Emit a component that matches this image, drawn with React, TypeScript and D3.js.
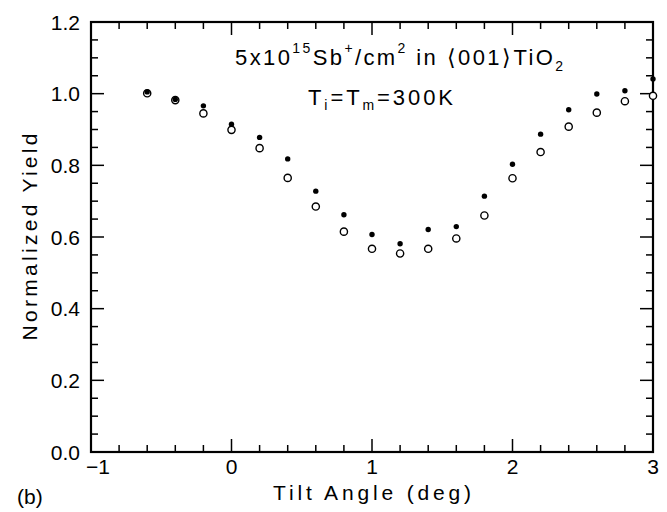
import React from "react";
import * as d3 from "d3";

const angles = [-0.6, -0.4, -0.2, 0, 0.2, 0.4, 0.6, 0.8, 1.0, 1.2, 1.4, 1.6, 1.8, 2.0, 2.2, 2.4, 2.6, 2.8, 3.0];
const yieldFilled = [1.005, 0.984, 0.966, 0.915, 0.878, 0.818, 0.728, 0.662, 0.607, 0.581, 0.621, 0.629, 0.714, 0.803, 0.887, 0.955, 0.999, 1.008, 1.041];
const yieldOpen = [1.001, 0.982, 0.945, 0.899, 0.848, 0.765, 0.685, 0.615, 0.567, 0.554, 0.567, 0.596, 0.660, 0.764, 0.837, 0.908, 0.947, 0.979, 0.994];
const xMajorTicks = [-1, 0, 1, 2, 3];
const yMajorTicks = [0, 0.2, 0.4, 0.6, 0.8, 1.0, 1.2];
const xLabel = "Tilt Angle (deg)";
const yLabel = "Normalized Yield";
const panelLabel = "(b)";

const W = 667;
const H = 512;
const M = { left: 91, right: 14, top: 22, bottom: 60 };
const FONT = "'Liberation Sans', Arial, Helvetica, sans-serif";

export default function App() {
  const x = d3.scaleLinear().domain([-1, 3]).range([M.left, W - M.right]);
  const y = d3.scaleLinear().domain([0, 1.2]).range([H - M.bottom, M.top]);
  const [x0, x1] = x.range();
  const [yb, yt] = y.range();

  const xMinor = d3.range(-1, 3.0001, 0.2).map((v) => +v.toFixed(2));
  const yMinor = d3.range(0, 1.2001, 0.05).map((v) => +v.toFixed(2));
  const isMajorX = (v: number) => Math.abs(v - Math.round(v)) < 1e-6;
  const isMajorY = (v: number) => Math.abs(v * 5 - Math.round(v * 5)) < 1e-6;
  const major = 13;
  const minor = 7;

  return (
    <svg width={W} height={H} style={{ position: "absolute", left: 0, top: 0, background: "#fff" }} fontFamily={FONT}>
      <rect x={0} y={0} width={W} height={H} fill="#fff" />
      {/* ticks */}
      <g stroke="#000" strokeWidth={1.5}>
        {xMinor.map((v, i) => {
          const len = isMajorX(v) ? major : minor;
          return (
            <g key={"xt" + i}>
              <line x1={x(v)} x2={x(v)} y1={yb} y2={yb - len} />
              <line x1={x(v)} x2={x(v)} y1={yt} y2={yt + len} />
            </g>
          );
        })}
        {yMinor.map((v, i) => {
          const len = isMajorY(v) ? major : minor;
          return (
            <g key={"yt" + i}>
              <line x1={x0} x2={x0 + len} y1={y(v)} y2={y(v)} />
              <line x1={x1} x2={x1 - len} y1={y(v)} y2={y(v)} />
            </g>
          );
        })}
      </g>
      <rect x={x0} y={yt} width={x1 - x0} height={yb - yt} fill="none" stroke="#000" strokeWidth={2.2} />
      {/* tick labels */}
      <g fontSize={21} fill="#000">
        {yMajorTicks.map((v) => (
          <text key={"yl" + v} x={x0 - 11} y={y(v)} dy="0.36em" textAnchor="end">
            {v.toFixed(1)}
          </text>
        ))}
        {xMajorTicks.map((v) => (
          <text key={"xl" + v} x={x(v) + (v < 0 ? 7 : 0)} y={yb + 22} textAnchor="middle">
            {v < 0 ? "\u2212" + Math.abs(v) : String(v)}
          </text>
        ))}
      </g>
      {/* axis labels */}
      <text x={(x0 + x1) / 2} y={500} fontSize={21} textAnchor="middle" textLength={198} lengthAdjust="spacing">
        {xLabel}
      </text>
      <text
        transform={`translate(37,${(yt + yb) / 2}) rotate(-90)`}
        fontSize={21}
        textAnchor="middle"
        textLength={207}
        lengthAdjust="spacing"
      >
        {yLabel}
      </text>
      <text x={17} y={504} fontSize={21}>
        {panelLabel}
      </text>
      {/* annotations */}
      <text x={235} y={65} fontSize={22} textLength={328} lengthAdjust="spacing">
        <tspan>5x10</tspan>
        <tspan fontSize={14} dy={-12}>15</tspan>
        <tspan dy={12}>Sb</tspan>
        <tspan fontSize={14} dy={-12}>+</tspan>
        <tspan dy={12}>/cm</tspan>
        <tspan fontSize={14} dy={-12}>2</tspan>
        <tspan dy={12}>{" in \u27E8001\u27E9TiO"}</tspan>
        <tspan fontSize={14} dy={6}>2</tspan>
      </text>
      <text x={308} y={105} fontSize={22} textLength={145} lengthAdjust="spacing">
        <tspan>T</tspan>
        <tspan fontSize={14} dy={5}>i</tspan>
        <tspan dy={-5}>=T</tspan>
        <tspan fontSize={14} dy={5}>m</tspan>
        <tspan dy={-5}>=300K</tspan>
      </text>
      {/* data */}
      <g>
        {angles.map((a, i) => (
          <circle key={"o" + i} cx={x(a)} cy={y(yieldOpen[i])} r={3.6} fill="#fff" stroke="#000" strokeWidth={1.4} />
        ))}
        {angles.map((a, i) => (
          <circle key={"f" + i} cx={x(a)} cy={y(yieldFilled[i])} r={2.7} fill="#000" />
        ))}
      </g>
    </svg>
  );
}
